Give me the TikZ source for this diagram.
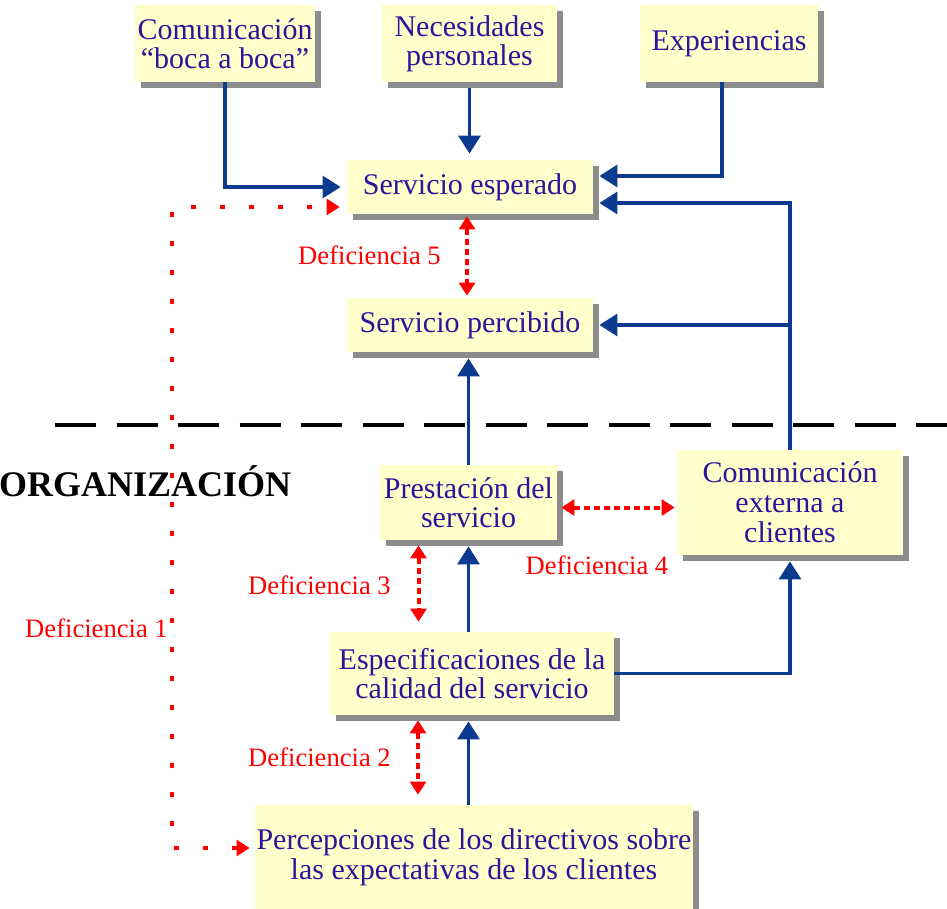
\documentclass[tikz,border=0pt]{standalone}
\usepackage{fontspec}
\setmainfont{Liberation Serif}
\usepackage{xcolor}
\usepackage{tikz}
\usetikzlibrary{arrows.meta,calc,shadows}
\definecolor{boxyellow}{HTML}{FFFFCC}
\definecolor{textblue}{HTML}{33119A}
\definecolor{flowblue}{HTML}{0B3A8E}
\definecolor{gapred}{HTML}{FF0000}
\definecolor{shadowgray}{HTML}{8C8C8C}

\begin{document}
\begin{tikzpicture}[x=0.5pt,y=-0.5pt,
    gapbox/.style={fill=boxyellow, text=textblue, align=center, inner sep=0pt,
        font=\fontsize{15}{14.5}\selectfont,
        drop shadow={shadow xshift=3pt, shadow yshift=-3pt, fill=shadowgray, opacity=1}},
    flowarrow/.style={flowblue, line width=1.6pt, -{Triangle[length=9pt,width=11pt]}, shorten >=3pt},
    gaparrow/.style={gapred, line width=2pt, dash pattern=on 3pt off 2pt,
        {Triangle[length=6.5pt,width=8pt]}-{Triangle[length=6.5pt,width=8pt]}},
    gaplabel/.style={gapred, font=\fontsize{13.3}{14}\selectfont}]
    \useasboundingbox (0,0) rectangle (947,909);

    \node[gapbox, minimum width=90pt, minimum height=38.5pt] (boca) at (225,43.5) {Comunicación\\ “boca a boca”};
    \node[gapbox, minimum width=87.5pt, minimum height=38.5pt] (neces) at (469.5,43.5) {Necesidades\\ personales};
    \node[gapbox, minimum width=89pt, minimum height=38.5pt] (exper) at (729,43.5) {Experiencias};
    \node[gapbox, minimum width=123pt, minimum height=27pt] (esperado) at (470,187) {Servicio esperado};
    \node[gapbox, minimum width=123pt, minimum height=27pt] (percibido) at (470,325) {Servicio percibido};
    \node[gapbox, minimum width=88.5pt, minimum height=37.5pt] (prestacion) at (468.5,502.5) {Prestación del\\ servicio};
    \node[gapbox, minimum width=113pt, minimum height=52.5pt, font=\fontsize{15}{15}\selectfont] (externa) at (790,502.5) {Comunicación\\ externa a\\ clientes};
    \node[gapbox, minimum width=142pt, minimum height=41.5pt] (especif) at (472,673.5) {Especificaciones de la\\ calidad del servicio};
    \node[gapbox, minimum width=219pt, minimum height=52pt, font=\fontsize{15}{15}\selectfont] (percep) at (474,857) {Percepciones de los directivos sobre\\ las expectativas de los clientes};

    \draw[black, line width=2pt, dash pattern=on 20.5pt off 10.25pt] (55,425) -- (980,425);
    \node[anchor=west, font=\bfseries\fontsize{18}{18}\selectfont] (org) at (-8,481) {ORGANIZACIÓN};

    \draw[flowarrow] (boca.south) |- (esperado.west);
    \draw[flowarrow, shorten <=3pt] (neces.south) -- (neces.south |- esperado.north);
    \draw[flowarrow] ([xshift=-3.5pt]exper.south) |- ([yshift=5.5pt]esperado.east);
    \draw[flowarrow] (externa.north) |- ([yshift=-8pt]esperado.east);
    \draw[flowarrow] (externa.north |- percibido.east) -- (percibido.east);
    \draw[flowarrow] (prestacion.north) -- (prestacion.north |- percibido.south);
    \draw[flowarrow] (prestacion.south |- especif.north) -- (prestacion.south);
    \draw[flowarrow] (especif.east) -| (externa.south);
    \draw[flowarrow] (prestacion.south |- percep.north) -- (prestacion.south |- especif.south);

    \coordinate (d3top) at ([xshift=-25pt]prestacion.south);
    \coordinate (d2top) at ([xshift=-27pt]especif.south);
    \coordinate (d1col) at (172,0);
    \coordinate (d1low) at ([yshift=4.5pt]percep.west);
    \coordinate (d1up) at ([yshift=-10pt]esperado.west);

    \draw[gaparrow, shorten <=1pt, shorten >=1pt] ([xshift=-1.5pt]esperado.south) -- ([xshift=-1.5pt]percibido.north);
    \draw[gaparrow, shorten <=2pt, shorten >=1pt] ([yshift=-2.5pt]prestacion.east) -- ([yshift=-2.5pt]externa.west);
    \draw[gaparrow, shorten <=2.5pt, shorten >=5pt] (d3top) -- (d3top |- especif.north);
    \draw[gaparrow, shorten <=2.5pt, shorten >=5pt] (d2top) -- (d2top |- percep.north);
    \draw[gaparrow, dash pattern=on 2.5pt off 12pt, shorten <=2.5pt, shorten >=3.5pt]
        (d1low) -- (d1low -| d1col) -- (d1up -| d1col) -- (d1up);

    \node[gaplabel] (def5) at (369.5,255) {Deficiencia 5};
    \node[gaplabel] (def4) at (597,565) {Deficiencia 4};
    \node[gaplabel] (def3) at (319.5,585) {Deficiencia 3};
    \node[gaplabel] (def2) at (319.5,757) {Deficiencia 2};
    \node[gaplabel] (def1) at (96.5,628) {Deficiencia 1};
\end{tikzpicture}
\end{document}
